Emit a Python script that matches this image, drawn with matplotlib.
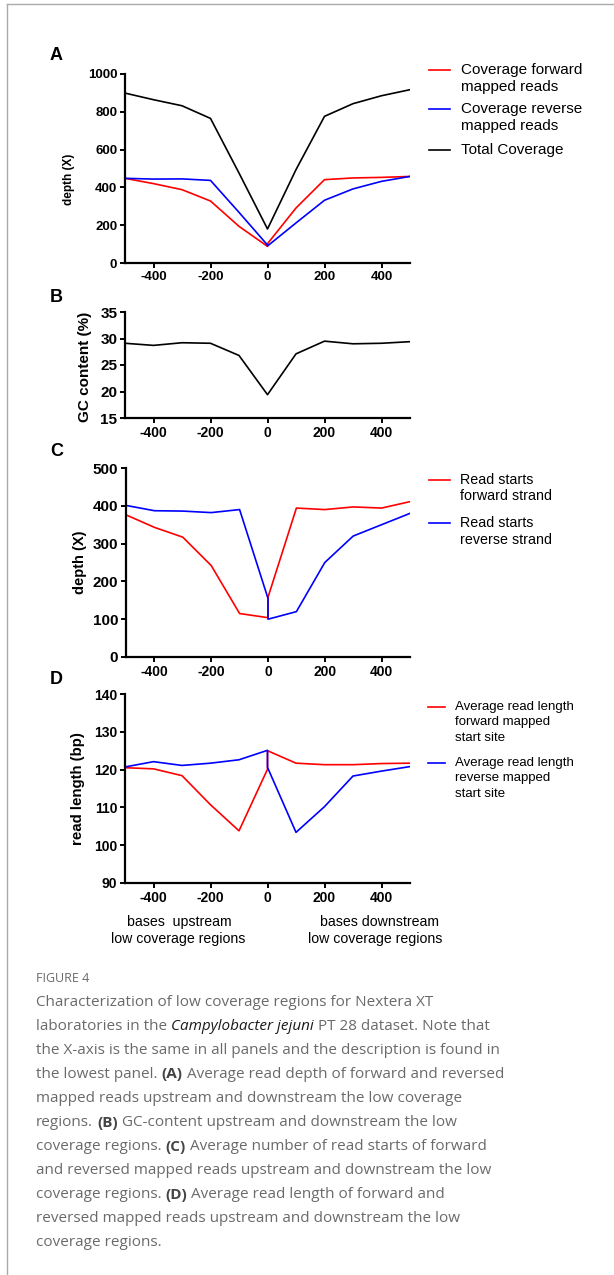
import matplotlib
matplotlib.use("Agg")
import matplotlib.pyplot as plt
from matplotlib.lines import Line2D

# ── data ─────────────────────────────────────────────────────────────────────
# x = 0 appears twice: end of upstream part and start of downstream part
pos = [-500, -400, -300, -200, -100, 0, 0, 100, 200, 300, 400, 500]

cov_fwd = [448, 420, 388, 328, 194, 88, 102, 291, 441, 450, 453, 458]
cov_rev = [448, 444, 445, 437, 268, 95, 90, 212, 332, 392, 432, 458]
cov_tot = [899, 864, 832, 765, 476, 180, 180, 494, 776, 843, 885, 917]

gc_content = [29.1, 28.7, 29.2, 29.1, 26.8, 19.4, 19.4, 27.1, 29.5, 29.0, 29.1, 29.4]

starts_fwd = [376, 343, 317, 242, 115, 104, 158, 394, 390, 397, 394, 411]
starts_rev = [401, 387, 386, 382, 390, 155, 100, 120, 250, 320, 350, 380]

len_fwd = [120.5, 120.2, 118.4, 110.7, 103.8, 120.1, 125.0, 121.7, 121.3, 121.3, 121.6, 121.7]
len_rev = [120.7, 122.1, 121.1, 121.7, 122.6, 125.1, 120.6, 103.4, 110.2, 118.3, 119.6, 120.8]

xticks = [-400, -200, 0, 200, 400]

caption_lines = [
    [("Characterization of low coverage regions for Nextera XT", "n")],
    [("laboratories in the", "n"), ("Campylobacter jejuni", "i"),
     ("PT 28 dataset. Note that", "n")],
    [("the X-axis is the same in all panels and the description is found in", "n")],
    [("the lowest panel.", "n"), ("(A)", "b"),
     ("Average read depth of forward and reversed", "n")],
    [("mapped reads upstream and downstream the low coverage", "n")],
    [("regions.", "n"), ("(B)", "b"), ("GC-content upstream and downstream the low", "n")],
    [("coverage regions.", "n"), ("(C)", "b"),
     ("Average number of read starts of forward", "n")],
    [("and reversed mapped reads upstream and downstream the low", "n")],
    [("coverage regions.", "n"), ("(D)", "b"), ("Average read length of forward and", "n")],
    [("reversed mapped reads upstream and downstream the low", "n")],
    [("coverage regions.", "n")],
]

RED = "#ff0000"
BLUE = "#0000ff"
W, H = 614, 1275
plt.rcParams["font.family"] = ["Liberation Sans", "DejaVu Sans"]
plt.rcParams["axes.unicode_minus"] = False


def fx(x):
    return x / W


def fy(y):
    return 1 - y / H


def make_axes(fig, left, right, top, bottom):
    ax = fig.add_axes([fx(left), fy(bottom), (right - left) / W, (bottom - top) / H])
    for s in ("top", "right"):
        ax.spines[s].set_visible(False)
    for s in ("left", "bottom"):
        ax.spines[s].set_linewidth(1.6)
    ax.set_xlim(-500, 500)
    ax.set_xticks(xticks)
    ax.tick_params(direction="out", length=3.5, width=1.4, pad=2)
    return ax


def style_ticks(ax, xsize, ysize):
    for lab in ax.get_xticklabels():
        lab.set_fontweight("bold")
        lab.set_fontsize(xsize)
    for lab in ax.get_yticklabels():
        lab.set_fontweight("bold")
        lab.set_fontsize(ysize)


def legend_block(fig, x0, x1, xt, entries, size, lh):
    """entries: list of (colour, y of first line, [text lines])"""
    for col, y, lines in entries:
        fig.add_artist(Line2D([fx(x0), fx(x1)], [fy(y), fy(y)], color=col, lw=1.2))
        for i, ln in enumerate(lines):
            fig.text(fx(xt), fy(y + i * lh), ln, fontsize=size, ha="left", va="center")


fig = plt.figure(figsize=(W / 100, H / 100), dpi=100)

# page frame
fig.add_artist(Line2D([fx(7), 1], [fy(4), fy(4)], color="#aaaaaa", lw=1))
fig.add_artist(Line2D([fx(7), fx(7)], [fy(4), 0], color="#aaaaaa", lw=1))

# ── A ────────────────────────────────────────────────────────────────────────
ax = make_axes(fig, 125, 410, 74, 263)
ax.plot(pos, cov_tot, color="black", lw=1.2)
ax.plot(pos, cov_fwd, color=RED, lw=1.2)
ax.plot(pos, cov_rev, color=BLUE, lw=1.2)
ax.set_ylim(0, 1000)
ax.set_yticks([0, 200, 400, 600, 800, 1000])
style_ticks(ax, 9.5, 9.5)
ax.set_ylabel("depth (X)", fontsize=8.5, fontweight="bold")
ax.yaxis.set_label_coords(fx(75), fy(179), transform=fig.transFigure)
fig.text(fx(50), fy(55), "A", fontsize=13, fontweight="bold", va="center")
legend_block(fig, 429, 450, 461, [
    (RED, 70, ["Coverage forward", "mapped reads"]),
    (BLUE, 109, ["Coverage reverse", "mapped reads"]),
    ("black", 150, ["Total Coverage"]),
], 11, 17)

# ── B ────────────────────────────────────────────────────────────────────────
ax = make_axes(fig, 125, 410, 312, 418)
ax.plot(pos, gc_content, color="black", lw=1.2)
ax.set_ylim(15, 35)
ax.set_yticks([15, 20, 25, 30, 35])
style_ticks(ax, 10, 11)
ax.set_ylabel("GC content (%)", fontsize=11, fontweight="bold")
ax.yaxis.set_label_coords(fx(92), fy(367), transform=fig.transFigure)
fig.text(fx(50), fy(297), "B", fontsize=13, fontweight="bold", va="center")

# ── C ────────────────────────────────────────────────────────────────────────
ax = make_axes(fig, 126, 410, 468, 657)
ax.plot(pos, starts_fwd, color=RED, lw=1.2)
ax.plot(pos, starts_rev, color=BLUE, lw=1.2)
ax.set_ylim(0, 500)
ax.set_yticks([0, 100, 200, 300, 400, 500])
style_ticks(ax, 10, 11)
ax.set_ylabel("depth (X)", fontsize=10.5, fontweight="bold")
ax.yaxis.set_label_coords(fx(87), fy(562), transform=fig.transFigure)
fig.text(fx(50), fy(452), "C", fontsize=13, fontweight="bold", va="center")
legend_block(fig, 429, 450, 460, [
    (RED, 480, ["Read starts", "forward strand"]),
    (BLUE, 523, ["Read starts", "reverse strand"]),
], 10.3, 16.5)

# ── D ────────────────────────────────────────────────────────────────────────
ax = make_axes(fig, 125, 410, 694, 883)
ax.plot(pos, len_fwd, color=RED, lw=1.2)
ax.plot(pos, len_rev, color=BLUE, lw=1.2)
ax.set_ylim(90, 140)
ax.set_yticks([90, 100, 110, 120, 130, 140])
style_ticks(ax, 10, 10)
ax.set_ylabel("read length (bp)", fontsize=10.8, fontweight="bold")
ax.yaxis.set_label_coords(fx(85), fy(789), transform=fig.transFigure)
fig.text(fx(50), fy(680), "D", fontsize=13, fontweight="bold", va="center")
legend_block(fig, 428, 445, 455, [
    (RED, 707, ["Average read length", "forward mapped", "start site"]),
    (BLUE, 763, ["Average read length", "reverse mapped", "start site"]),
], 9.5, 15.5)
fig.text(fx(179), fy(922), "bases  upstream", fontsize=10.2, ha="center", va="center")
fig.text(fx(178), fy(939), "low coverage regions", fontsize=10.2, ha="center", va="center")
fig.text(fx(379), fy(922), "bases downstream", fontsize=10.2, ha="center", va="center")
fig.text(fx(375), fy(939), "low coverage regions", fontsize=10.2, ha="center", va="center")

# ── caption ──────────────────────────────────────────────────────────────────
cap_font = ["Open Sans", "DejaVu Sans"]
cap_size = 11
fig.text(fx(36), fy(979), "FIGURE 4", fontsize=9, color="#6a6a6a",
         family=cap_font, va="center")

renderer = fig.canvas.get_renderer()
styles = {
    "n": dict(color="#6a6a6a"),
    "i": dict(color="#1a1a1a", style="italic"),
    "b": dict(color="#444444", weight="bold"),
}


def text_width(s, **kw):
    t = fig.text(0, 0, s, fontsize=cap_size, family=cap_font, **kw)
    w = t.get_window_extent(renderer).width
    t.remove()
    return w


for i, line in enumerate(caption_lines):
    x = 36.0
    y = 1002 + i * 24.1
    for seg, st in line:
        fig.text(fx(x), fy(y), seg, fontsize=cap_size, family=cap_font,
                 va="center", ha="left", **styles[st])
        # advance = segment plus trailing space, measured against a sentinel glyph
        x += text_width(seg + " |", **styles[st]) - text_width("|", **styles[st])

fig.savefig("out.png", dpi=100)
